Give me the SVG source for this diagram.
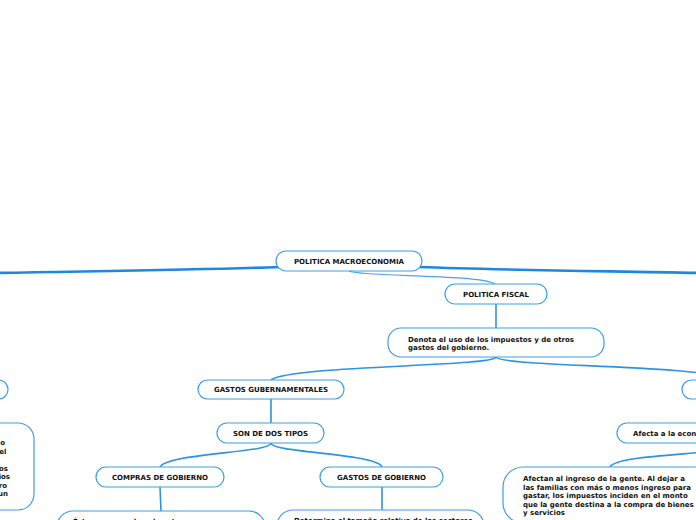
<svg xmlns="http://www.w3.org/2000/svg" width="696" height="520" viewBox="0 0 696 520">
<style>
.n{fill:#fff;stroke:#3b9fe6;stroke-width:1.2}
.t{font-family:"DejaVu Sans","Verdana",sans-serif;font-weight:bold;font-size:7px;fill:#111}
.c{text-anchor:middle}
.e{text-anchor:end}
.main{fill:none;stroke:#1e88df;stroke-width:2.6;stroke-linecap:round}
.k{fill:none;stroke:#2b93e2;stroke-width:1.6}
.thin{fill:none;stroke:#4aa5e8;stroke-width:1.2}
</style>
<rect width="696" height="520" fill="#fff"/>
<g id="connectors">
<path class="main" d="M280,267 C200,270 100,271 -5,273"/>
<path class="main" d="M418,267 C500,270 600,271 700,273"/>
<path class="thin" d="M349,271 C360,277 480,274 495,284"/>
<path class="k" d="M496,304 L496,328"/>
<path class="k" d="M496,357 C494,367 290,365 271,380"/>
<path class="k" d="M496,357 C500,367 690,364 740,380"/>
<path class="k" d="M271,399 L271,423"/>
<path class="k" d="M271,443 C271,453 168,453 160,467"/>
<path class="k" d="M271,443 C271,453 376,453 382,467"/>
<path class="k" d="M160,487 L161,511"/>
<path class="k" d="M382,487 L382,510"/>
<path class="k" d="M705,452 C660,456 615,458 610,467"/>
</g>
<g id="n-root"><rect class="n" x="276" y="251" width="146" height="20" rx="10"/><text class="t c" x="349" y="263.5">POLITICA MACROECONOMIA</text></g>
<g id="n-fiscal"><rect class="n" x="445" y="284" width="102" height="20" rx="10"/><text class="t c" x="496" y="296.5">POLITICA FISCAL</text></g>
<g id="n-denota"><rect class="n" x="388" y="328" width="216" height="29" rx="13"/><text class="t" x="408" y="341.5">Denota el uso de los impuestos y de otros</text><text class="t" x="408" y="350">gastos del gobierno.</text></g>
<g id="n-gastosgub"><rect class="n" x="198" y="380" width="146" height="19" rx="9.5"/><text class="t c" x="271" y="392">GASTOS GUBERNAMENTALES</text></g>
<g id="n-son"><rect class="n" x="217" y="423" width="107" height="20" rx="10"/><text class="t c" x="270.5" y="435.5">SON DE DOS TIPOS</text></g>
<g id="n-compras"><rect class="n" x="96" y="467" width="128" height="20" rx="10"/><text class="t c" x="160" y="479.5">COMPRAS DE GOBIERNO</text></g>
<g id="n-gastosgob"><rect class="n" x="320" y="467" width="123" height="20" rx="10"/><text class="t c" x="381.5" y="479.5">GASTOS DE GOBIERNO</text></g>
<g id="n-estos"><rect class="n" x="57" y="511" width="208" height="40" rx="16"/><text class="t" x="73" y="523.5">Éstos comprenden el gasto en</text></g>
<g id="n-determina"><rect class="n" x="277" y="510" width="207" height="40" rx="16"/><text class="t" x="294" y="523">Determina el tamaño relativo de los sectores</text></g>
<g id="n-right1"><rect class="n" x="682" y="380" width="120" height="19" rx="9.5"/></g>
<g id="n-afecta"><rect class="n" x="617" y="423" width="170" height="20" rx="10"/><text class="t" x="633" y="435.5">Afecta a la economía</text></g>
<g id="n-afectan"><rect class="n" x="503" y="467" width="215" height="56" rx="20"/>
<text class="t" x="523" y="481">Afectan al ingreso de la gente. Al dejar a</text>
<text class="t" x="523" y="489.5">las familias con más o menos ingreso para</text>
<text class="t" x="523" y="498">gastar, los impuestos inciden en el monto</text>
<text class="t" x="523" y="506.5">que la gente destina a la compra de bienes</text>
<text class="t" x="523" y="515">y servicios</text></g>
<g id="n-left1"><rect class="n" x="-140" y="380" width="148" height="19" rx="9.5"/></g>
<g id="n-left2"><rect class="n" x="-200" y="423" width="234" height="87" rx="16"/>
<text class="t e" x="5" y="445">o</text>
<text class="t e" x="6.5" y="453.5">el</text>
<text class="t e" x="8" y="470.5">os</text>
<text class="t e" x="10" y="479">ios</text>
<text class="t e" x="7" y="487.5">ro</text>
<text class="t e" x="8" y="496">un</text></g>
</svg>
